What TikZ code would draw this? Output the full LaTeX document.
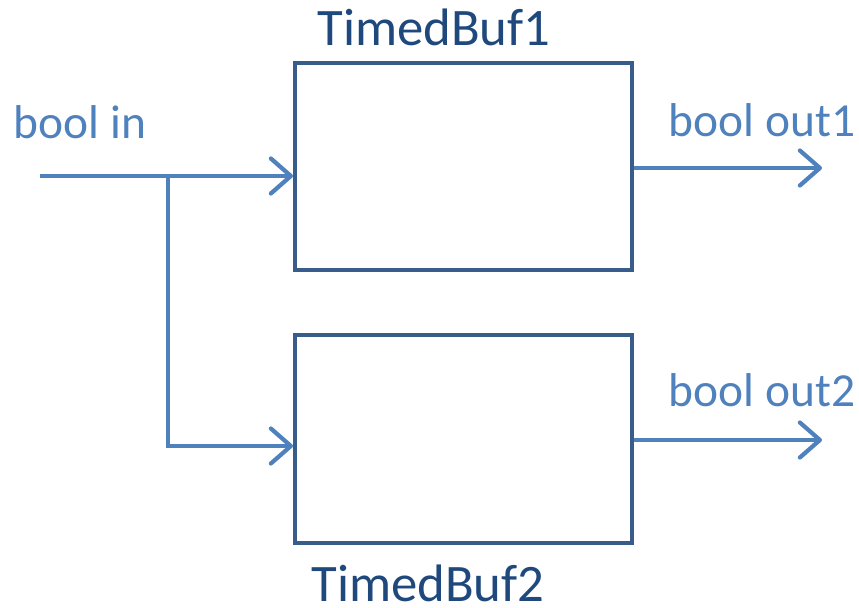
\documentclass[tikz,border=0pt]{standalone}
\usepackage{fontspec}
\setmainfont{Carlito}
\usetikzlibrary{arrows.meta}
\definecolor{wireblue}{HTML}{4F81BD}
\definecolor{boxblue}{HTML}{385D8A}
\definecolor{titleblue}{HTML}{1F497D}

\begin{document}
\begin{tikzpicture}[every node/.style={font=\fontsize{27}{30}\selectfont},
  buf/.style={draw=boxblue,line width=2.3pt,minimum width=6.74cm,minimum height=4.14cm,inner sep=0pt},
  title/.style={text=titleblue,inner sep=0pt,font=\fontsize{30}{33}\selectfont},
  wire/.style={draw=wireblue,line width=2.4pt,-{Straight Barb[length=4mm,width=7mm,line width=2.4pt,round]}}]
\useasboundingbox (0,0) rectangle (17.18,12.14);
\node[buf] (b1) at (9.27,8.81) {};
\node[buf,minimum height=4.16cm] (b2) at (9.27,3.36) {};
\node[title] (t1) at (8.68,11.6) {TimedBuf1};
\node[title,anchor=base,text depth=0pt] (t2) at (8.56,0.12) {TimedBuf2};
\node[text=wireblue] (lin) at (1.6,9.7) {bool in};
\node[text=wireblue] (lo1) at (15.24,9.74) {bool out1};
\node[text=wireblue] (lo2) at (15.24,4.34) {bool out2};
\coordinate (in) at (0.8,8.62);
\coordinate (split) at (3.36,8.62);
\coordinate (o1) at (16.44,8.78);
\coordinate (o2) at (16.44,3.34);
\draw[wire] (in) -- (b1.west |- in);
\draw[wire] (split) |- (b2.west |- 0,3.22);
\draw[wire] (b1.east |- o1) -- (o1);
\draw[wire] (b2.east |- o2) -- (o2);
\end{tikzpicture}
\end{document}
